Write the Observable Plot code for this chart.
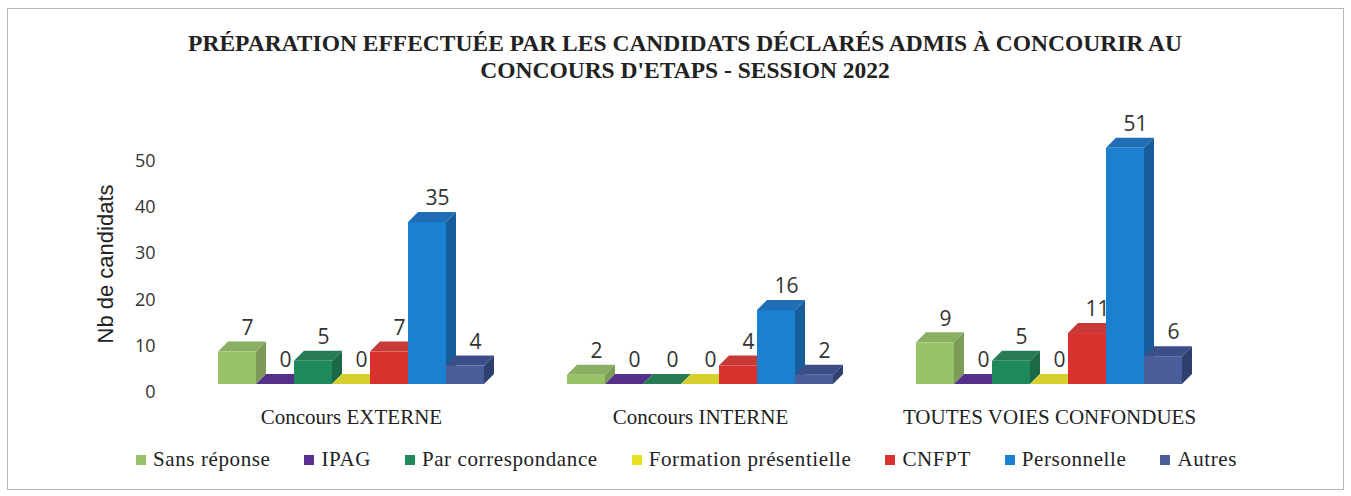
<!DOCTYPE html>
<html><head><meta charset="utf-8">
<script src="https://cdn.jsdelivr.net/npm/d3@7"></script>
<script src="https://cdn.jsdelivr.net/npm/@observablehq/plot@0.6"></script>
<style>
body{margin:0;background:#fff;}
#wrap{position:relative;width:1351px;height:496px;overflow:hidden;background:#fff;}
#frame{position:absolute;left:7px;top:8px;width:1337px;height:482px;border:1px solid #b8b8b8;box-sizing:border-box;}
#title{position:absolute;left:0;width:1370px;top:30px;text-align:center;font-family:"Liberation Serif",serif;font-weight:bold;font-size:23.5px;line-height:27px;color:#222;}
#ylabel{position:absolute;left:106px;top:264px;transform:translate(-50%,-50%) rotate(-90deg);font-family:"Liberation Sans",sans-serif;font-size:22px;color:#222;white-space:nowrap;}
#legend{position:absolute;left:136px;top:447px;display:flex;gap:34px;font-family:"Liberation Serif",serif;font-size:21px;color:#222;letter-spacing:0.6px;}
#legend .it{display:flex;align-items:center;}
#legend .sw{width:10px;height:10px;margin-right:7px;}
#chart{position:absolute;left:0;top:0;}
</style></head>
<body><div id="wrap"><div id="frame"></div><div id="chart"></div>
<div id="title">PRÉPARATION EFFECTUÉE PAR LES CANDIDATS DÉCLARÉS ADMIS À CONCOURIR AU<br>CONCOURS D'ETAPS - SESSION 2022</div>
<div id="ylabel">Nb de candidats</div>
<div id="legend"></div></div>
<script>
const groups = ["Concours EXTERNE", "Concours INTERNE", "TOUTES VOIES CONFONDUES"];
const categories = ["Sans réponse", "IPAG", "Par correspondance", "Formation présentielle", "CNFPT", "Personnelle", "Autres"];
const externe = [7, 0, 5, 0, 7, 35, 4];
const interne = [2, 0, 0, 0, 4, 16, 2];
const toutes = [9, 0, 5, 0, 11, 51, 6];
const yTicks = [0, 10, 20, 30, 40, 50];

// styles
const frontColors = ["#98c266", "#5b2e92", "#1e8a5c", "#e6e01e", "#d8312e", "#1a80d0", "#4a5e9c"];
const topColors   = ["#8aae62", "#55308a", "#277c55", "#d6d02e", "#c73a36", "#1f6db4", "#3b4e87"];
const sideColors  = ["#7c9b58", "#472777", "#1b6946", "#bdb71e", "#a92b28", "#185d9b", "#2f3f6e"];
const DEPTH = 10;

const series = [externe, interne, toutes];
const data = groups.flatMap((g, gi) => categories.map((c, ci) => ({group: g, cat: c, ci, value: series[gi][ci]})));

function render3d(index, scales, values) {
  const g = d3.create("svg:g");
  const bwRaw = scales.x.bandwidth;
  const bw = typeof bwRaw === "function" ? bwRaw() : bwRaw;
  const X = values.x;
  const ord = Array.from(index).sort((a, b) => X[a] - X[b]);
  for (const i of ord) {
    const ci = data[i].ci;
    const x0 = X[i], x1 = x0 + bw;
    const yt = Math.min(values.y1[i], values.y2[i]);
    const yb = Math.max(values.y1[i], values.y2[i]);
    const D = DEPTH;
    g.append("polygon").attr("fill", sideColors[ci])
      .attr("points", [[x1, yt], [x1 + D, yt - D], [x1 + D, yb - D], [x1, yb]].join(" "));
    g.append("polygon").attr("fill", topColors[ci])
      .attr("points", [[x0, yt], [x0 + D, yt - D], [x1 + D, yt - D], [x1, yt]].join(" "));
    g.append("rect").attr("fill", frontColors[ci])
      .attr("x", x0).attr("y", yt).attr("width", bw).attr("height", yb - yt);
  }
  return g.node();
}

const chart = Plot.plot({
  width: 1351,
  height: 496,
  marginTop: 152.5,
  marginBottom: 112,
  marginLeft: 176,
  marginRight: 127,
  style: {fontFamily: "'Open Sans', sans-serif", fontSize: "18px", color: "#333", background: "transparent", overflow: "visible"},
  fx: {domain: groups, paddingInner: 0.238, paddingOuter: 0.12, axis: null, label: null},
  x: {domain: categories, padding: 0, axis: null},
  y: {domain: [0, 50], axis: null},
  marks: [
    Plot.axisY({ticks: yTicks, tickSize: 0, tickPadding: 63, dy: 8, label: null, fontSize: 18, fill: "#333"}),
    Plot.barY(data, {fx: "group", x: "cat", y: "value", render: render3d}),
    Plot.text(data, {fx: "group", x: "cat", y: "value", text: d => String(d.value), dx: 10, dy: -24,
      fontSize: 21, fill: "#333", fontFamily: "'Open Sans', sans-serif"}),
    Plot.text(groups, {fx: d => d, text: d => d, frameAnchor: "bottom", dy: 39,
      fontSize: 21, fill: "#222", fontFamily: "'Liberation Serif', serif"})
  ]
});
document.getElementById("chart").appendChild(chart);

const leg = document.getElementById("legend");
categories.forEach((c, i) => {
  const it = document.createElement("div"); it.className = "it";
  const sw = document.createElement("span"); sw.className = "sw"; sw.style.background = frontColors[i];
  const tx = document.createElement("span"); tx.textContent = c;
  it.appendChild(sw); it.appendChild(tx); leg.appendChild(it);
});
</script></body></html>
